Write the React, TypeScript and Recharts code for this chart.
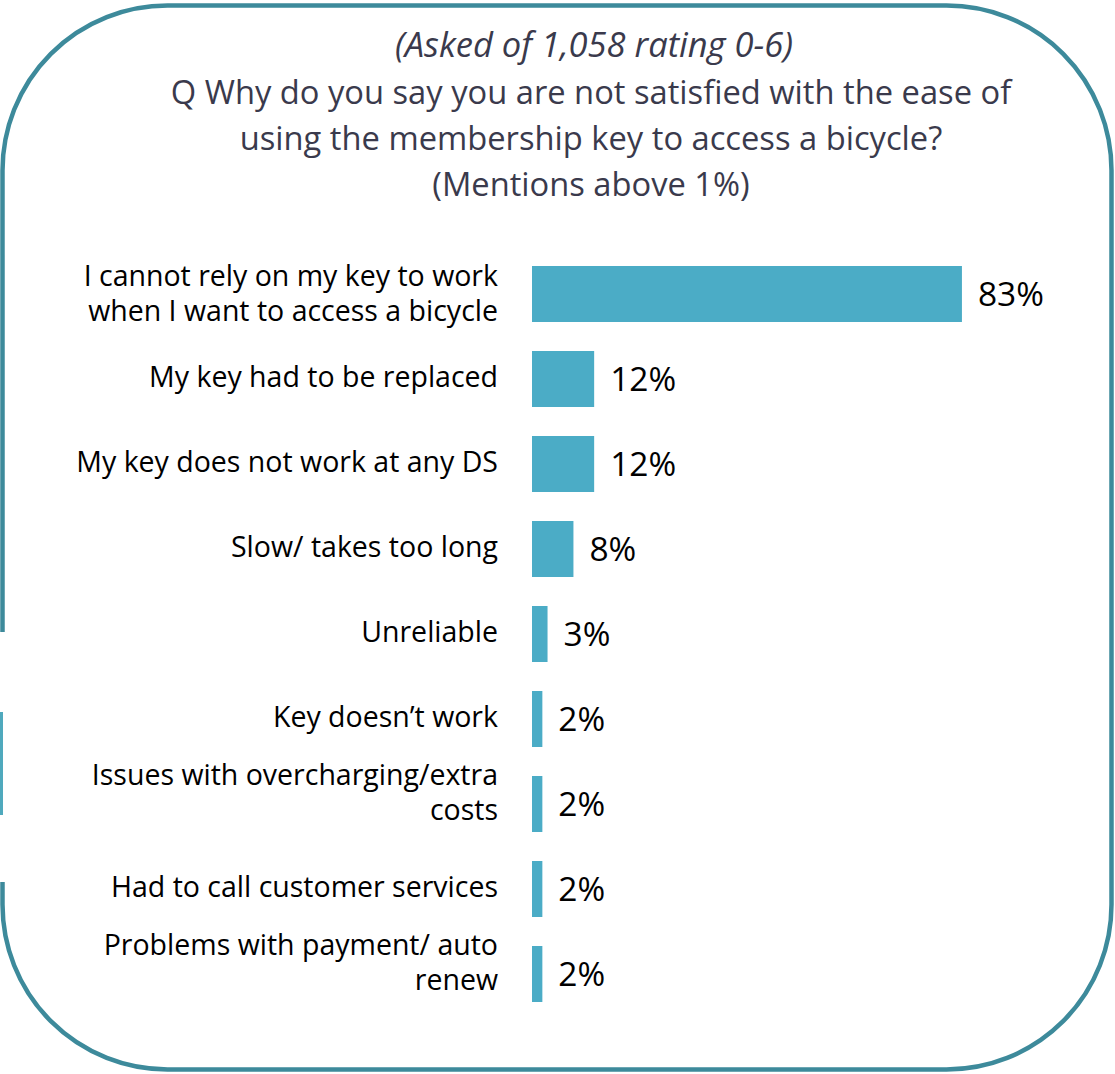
import { BarChart, Bar, XAxis, YAxis, LabelList } from 'recharts'

const categories = [
  'I cannot rely on my key to work\nwhen I want to access a bicycle',
  'My key had to be replaced',
  'My key does not work at any DS',
  'Slow/ takes too long',
  'Unreliable',
  'Key doesn\u2019t work',
  'Issues with overcharging/extra\ncosts',
  'Had to call customer services',
  'Problems with payment/ auto\nrenew',
]
const values = [83, 12, 12, 8, 3, 2, 2, 2, 2]

const titleLines = [
  'Q Why do you say you are not satisfied with the ease of',
  'using the membership key to access a bicycle?',
  '(Mentions above 1%)',
]
const subtitle = '(Asked of 1,058 rating 0-6)'

const BAR_COLOR = '#4bacc6'
const BORDER_COLOR = '#3d8a9b'
const TITLE_COLOR = '#3a3a4c'
const FONT = '"Open Sans", sans-serif'

const W = 1115
const H = 1074

const data = categories.map((name, i) => ({ name, value: values[i] }))

function CategoryTick(props: any) {
  const { x, y, payload, index } = props
  const lines: string[] = String(payload.value).split('\n')
  // first label sits a bit lower in the original slide
  const start = lines.length === 1 ? 8 : index === 0 ? -8 : -19
  return (
    <text x={x} y={y} textAnchor="end" fill="#000" fontSize={28.5} fontFamily={FONT}>
      {lines.map((l, i) => (
        <tspan key={i} x={x} y={y + start + i * 35}>
          {l}
        </tspan>
      ))}
    </text>
  )
}

export default function App() {
  return (
    <div style={{ position: 'absolute', left: 0, top: 0, width: W, height: H, background: '#fff' }}>
      <svg width={W} height={H} style={{ position: 'absolute', left: 0, top: 0 }}>
        <rect x={2.5} y={5.5} width={1109} height={1064} rx={165} ry={165} fill="none" stroke={BORDER_COLOR} strokeWidth={4.5} />
        {/* broken bits of the left edge, as in the slide crop */}
        <rect x={0} y={632} width={9} height={80} fill="#fff" />
        <rect x={0} y={712} width={9} height={103} fill="#fff" />
        <rect x={0} y={712} width={3} height={103} fill="#4fa9bd" />
        <rect x={0} y={815} width={9} height={67} fill="#fff" />
        <text x={594} y={57} textAnchor="middle" fontSize={34.5} fontStyle="italic" fill={TITLE_COLOR} fontFamily={FONT}>
          {subtitle}
        </text>
        {titleLines.map((t, i) => (
          <text key={i} x={591} y={104 + i * 46} textAnchor="middle" fontSize={32.7} fill={TITLE_COLOR} fontFamily={FONT}>
            {t}
          </text>
        ))}
      </svg>
      <div style={{ position: 'absolute', left: 0, top: 0 }}>
        <BarChart
          width={W}
          height={H}
          data={data}
          layout="vertical"
          margin={{ top: 251, right: 65, bottom: 58, left: 0 }}
        >
          <XAxis type="number" domain={[0, 100]} hide />
          <YAxis
            type="category"
            dataKey="name"
            width={532}
            axisLine={false}
            tickLine={false}
            tickSize={0}
            tickMargin={34}
            interval={0}
            tick={<CategoryTick />}
          />
          <Bar dataKey="value" fill={BAR_COLOR} barSize={56} isAnimationActive={false}>
            <LabelList
              dataKey="value"
              position="right"
              offset={16}
              formatter={(v: any) => `${v}%`}
              style={{ fontSize: 33.5, fill: '#000', fontFamily: FONT }}
            />
          </Bar>
        </BarChart>
      </div>
    </div>
  )
}
